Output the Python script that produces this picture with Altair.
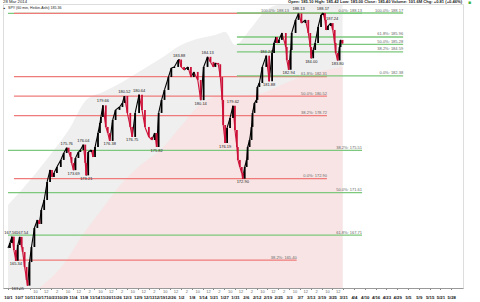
import json
import numpy as np
import pandas as pd
import altair as alt

# ---------------- calendar (x = trading-day index, day 0 = 1 Oct 2013) ----------------
first_day = "2013-10-01"
last_day = "2014-05-30"
holidays = ["2013-11-28", "2013-12-25", "2014-01-01", "2014-01-20",
            "2014-02-17", "2014-04-18", "2014-05-26"]

# ---------------- SPY 60-min Heikin-Ashi path ----------------
bar_day = [0.00, 0.72, 1.45, 2.17, 2.90, 3.62, 4.34, 5.07, 5.43, 6.15, 6.88, 7.24, 7.96, 8.69,
           9.77, 10.86, 11.58, 12.31, 13.39, 14.48, 15.56, 16.29, 17.01, 18.10, 19.54, 20.63,
           21.72, 22.44, 23.16, 23.52, 24.25, 24.97, 26.06, 26.78, 27.87, 28.59, 28.95, 29.68,
           30.76, 31.49, 32.21, 33.30, 34.02, 34.38, 35.11, 36.19, 36.92, 37.64, 38.73, 39.81,
           41.26, 42.34, 43.07, 44.15, 45.24, 45.96, 47.05, 48.50, 49.58, 50.67, 52.12, 53.20,
           54.29, 55.01, 55.74, 56.82, 57.91, 59.36, 60.44, 61.53, 62.97, 63.34, 64.06, 65.15,
           66.59, 67.68, 68.77, 70.21, 71.30, 72.39, 73.83, 74.92, 76.00, 76.73, 77.81, 78.54,
           79.26, 79.62, 80.35, 81.07, 82.16, 83.24, 83.97, 84.69, 85.05, 85.78, 86.50, 86.86,
           87.59, 88.31, 88.67, 89.40, 90.12, 90.48, 91.20, 91.93, 92.29, 93.01, 94.10, 95.55,
           96.63, 97.72, 98.44, 99.17, 99.53, 100.25, 101.34, 102.79, 103.15, 103.87, 104.60,
           104.96, 106.41, 107.49, 108.58, 110.03, 111.11, 111.84, 112.20, 112.92, 113.66,
           114.73, 115.82, 116.54, 117.27, 117.63, 118.39, 119.43, 120.16, 120.88, 121.24,
           121.97, 122.69, 123.05, 123.78]
bar_close = [166.52, 166.98, 167.56, 166.33, 165.34, 166.79, 167.54, 166.61, 166.15, 164.77,
             163.57, 163.05, 165.22, 166.61, 168.36, 169.10, 168.73, 170.02, 170.94, 172.60,
             173.71, 173.06, 173.43, 173.98, 174.63, 175.27, 175.76, 175.36, 174.90, 174.35,
             173.69, 174.81, 175.36, 175.55, 176.04, 174.35, 173.21, 175.36, 175.55, 174.90,
             175.82, 177.11, 178.03, 178.59, 179.66, 177.67, 177.11, 176.38, 178.31, 179.24,
             179.51, 179.88, 180.52, 178.96, 177.67, 176.75, 178.96, 180.64, 179.24, 177.67,
             176.75, 176.47, 177.11, 175.82, 178.96, 180.16, 181.08, 182.27, 183.10, 183.20,
             183.84, 183.88, 183.20, 182.92, 183.20, 182.27, 182.74, 182.00, 180.14, 183.20,
             184.13, 183.66, 183.20, 183.57, 183.45, 182.27, 180.16, 177.85, 176.19, 177.58,
             178.50, 179.62, 177.39, 175.82, 174.63, 173.98, 173.43, 172.90, 173.98, 174.63,
             175.82, 176.47, 177.67, 178.96, 179.88, 180.16, 181.35, 181.72, 183.20, 184.24,
             181.88, 184.49, 185.41, 185.96, 185.41, 185.69, 186.33, 185.04, 183.84, 182.94,
             184.76, 186.33, 187.53, 188.13, 187.25, 187.53, 186.33, 185.04, 184.00, 184.76,
             185.41, 186.88, 187.99, 188.17, 187.53, 186.61, 186.97, 187.24, 186.61, 185.41,
             184.49, 183.80, 185.04, 185.69, 185.36]

# swing-point price labels (label_day = where the label text is centred)
hi_label_day = [0.9, 5.2, 21.72, 27.87, 35.11, 43.07, 48.50, 63.34, 73.83, 83.24, 95.55, 107.49, 116.54, 119.9]
hi_price = [167.56, 167.54, 175.76, 176.04, 179.66, 180.52, 180.64, 183.88, 184.13, 179.62, 184.24, 188.13, 188.17, 187.24]
lo_label_day = [2.90, 3.6, 24.25, 28.95, 37.64, 45.96, 55.01, 71.30, 80.35, 86.86, 96.63, 103.87, 112.20, 121.97]
lo_price = [165.34, 163.05, 173.69, 173.21, 176.38, 176.75, 175.82, 180.14, 176.19, 172.90, 181.88, 182.94, 184.00, 183.80]

# ---------------- Fibonacci retracement lines ----------------
fib_set = ["g1"] * 4 + ["r"] * 6 + ["g2"] * 5
fib_price = [188.13, 175.51, 171.61, 167.71,
             188.13, 182.31, 180.52, 178.72, 172.90, 165.40,
             188.17, 185.96, 185.28, 184.59, 182.38]
fib_text = ["0.0%: 188.13", "38.2%: 175.51", "50.0%: 171.61", "61.8%: 167.71",
            "100.0%: 188.13", "61.8%: 182.31", "50.0%: 180.52", "38.2%: 178.72", "0.0%: 172.90", "38.2%: 165.40",
            "100.0%: 188.17", "61.8%: 185.96", "50.0%: 185.28", "38.2%: 184.59", "0.0%: 182.38"]
fib_start = [0.0] * 4 + [2.2] * 5 + [2.5] + [84.7] * 5
fib_end = [131.0] * 4 + [118.0] * 5 + [106.8] + [146.2] * 5
fib_label_end = [131.0] * 4 + [104.0] + [118.0] * 4 + [106.8] + [146.2] * 5

# ---------------- shaded envelopes ----------------
gray_day = [0.0, 9.77, 17.01, 22.44, 28.95, 35.11, 42.34, 49.58, 56.82, 64.06, 71.30, 76.73,
            80.35, 83.97, 89.40, 94.83, 100.25, 123.78]
gray_top = [170.48, 173.24, 175.55, 177.39, 180.16, 180.89, 181.82, 182.92, 184.03, 185.23,
            185.87, 186.15, 186.42, 185.23, 186.61, 188.27, 188.91, 188.91]
pink_day = [11.58, 20.63, 27.87, 35.11, 41.26, 49.58, 56.82, 64.06, 71.30, 78.54, 85.78,
            93.01, 100.25, 107.49, 114.73, 123.78]
pink_top = [162.83, 165.04, 167.80, 170.20, 172.23, 174.26, 175.64, 177.76, 179.79, 180.53,
            180.53, 180.71, 181.45, 182.18, 182.74, 183.20]

# ---------------- axis values ----------------
y_ticks = [163, 164, 165, 166, 167, 168, 169, 170, 171, 172, 173, 174, 175, 176, 177, 178,
           179, 180, 181, 182, 187]
y_marks = [188.23, 186.13, 185.36, 184.0, 182.92]
y_lo, y_hi = 162.83, 189.0
x_lo, x_hi = 0.0, 166.5

header_date = "28 Mar 2014"
header_sym = "SPY (60 min, Heikin-Ashi) 185.36"
header_quote = "Open: 185.10  High: 185.42  Low: 185.00  Close: 185.40  Volume: 101.6M  Chg: +0.81 (+0.46%)"

# ---------------- build tables ----------------
cal = pd.bdate_range(first_day, last_day)
cal = cal[~cal.isin(pd.to_datetime(holidays))]
date_tick_days = list(range(0, len(cal), 4))
date_tick_text = [f"{cal[d].month}/{cal[d].day}" for d in date_tick_days]
hour_tick_days = [d + 2 for d in date_tick_days if 8 < d + 2 < 124]
hour_tick_text = [["10", "12", "2"][i % 3] for i in range(len(hour_tick_days))]

candles = pd.DataFrame({"day": bar_day, "close": bar_close})
candles["open"] = candles["close"].shift(1).fillna(candles["close"])
candles["prev_day"] = candles["day"].shift(1).fillna(candles["day"])
candles["dir"] = np.where(candles["close"] >= candles["open"], "up", "down")

fibs = pd.DataFrame({"set": fib_set, "price": fib_price, "text": fib_text,
                     "start": fib_start, "end": fib_end, "lend": fib_label_end})
hi = pd.DataFrame({"day": hi_label_day, "price": hi_price, "text": [f"{p:.2f}" for p in hi_price]})
lo = pd.DataFrame({"day": lo_label_day, "price": lo_price, "text": [f"{p:.2f}" for p in lo_price]})
gray = pd.DataFrame({"day": gray_day, "top": gray_top})
pink = pd.DataFrame({"day": pink_day, "top": pink_top})

xscale = alt.Scale(domain=[x_lo, x_hi], nice=False, zero=False)
yscale = alt.Scale(domain=[y_lo, y_hi], nice=False, zero=False)
FONT = "Liberation Sans"

hour_expr = f"{json.dumps(hour_tick_text)}[indexof({json.dumps(hour_tick_days)}, datum.value)]"
date_expr = f"{json.dumps(date_tick_text)}[indexof({json.dumps(date_tick_days)}, datum.value)]"
mark_list = json.dumps(y_marks)
y_expr = (f"indexof({mark_list}, datum.value) >= 0 ? format(datum.value, '.2f') "
          f": format(datum.value, 'd')")

hour_axis = alt.Axis(orient="bottom", values=hour_tick_days, labelExpr=hour_expr,
                     labelFontSize=4, labelColor="#666", ticks=False, domain=False,
                     grid=False, labelPadding=1, labelFont=FONT, title=None,
                     labelOverlap=False, labelFlush=False)
date_axis = alt.Axis(orient="bottom", values=date_tick_days, labelExpr=date_expr,
                     labelFontSize=4.3, labelFontWeight="bold", labelColor="#111",
                     tickSize=1.5, tickColor="#888", domainColor="#999", grid=False,
                     labelPadding=5.5, labelFont=FONT, title=None, labelOverlap=False,
                     labelFlush=False)
y_axis = alt.Axis(orient="right", values=y_ticks + y_marks, labelExpr=y_expr,
                  labelFontSize=4.3, labelFont=FONT, tickSize=2, tickColor="#888",
                  domainColor="#888", grid=False, labelPadding=1, title=None,
                  labelOverlap=False, labelFlush=False,
                  labelFontWeight={"condition": {"test": f"indexof({mark_list}, datum.value) >= 0",
                                                 "value": "bold"}, "value": "normal"},
                  labelColor={"condition": {"test": "datum.value == 182.92", "value": "#d0303a"},
                              "value": "#333"})

gray_layer = alt.Chart(gray).mark_area(color="#efefef", interpolate="monotone").encode(
    x=alt.X("day:Q", scale=xscale, axis=hour_axis),
    y=alt.Y("top:Q", scale=yscale, axis=None),
    y2=alt.datum(y_lo))

pink_layer = alt.Chart(pink).mark_area(color="#f8e4e4", interpolate="monotone").encode(
    x=alt.X("day:Q", scale=xscale, axis=date_axis),
    y=alt.Y("top:Q", scale=yscale, axis=None),
    y2=alt.datum(y_lo))

fib_colors = {"g1": "#7cc87c", "r": "#f07a7a", "g2": "#7cc87c"}
fib_layers = []
for s in ["g1", "r", "g2"]:
    fib_layers.append(alt.Chart(fibs).transform_filter(f"datum.set == '{s}'")
                      .mark_rule(strokeWidth=1.3, color=fib_colors[s]).encode(
        x=alt.X("start:Q", scale=xscale, axis=None), x2="end:Q",
        y=alt.Y("price:Q", scale=yscale, axis=None)))

fib_text_layer = alt.Chart(fibs).mark_text(align="right", baseline="bottom", dy=-0.5,
                                           fontSize=4, font=FONT, color="#666").encode(
    x=alt.X("lend:Q", scale=xscale, axis=None),
    y=alt.Y("price:Q", scale=yscale, axis=None),
    text="text:N")

dir_colors = {"up": "#000000", "down": "#cc1038"}
candle_layers = []
for dname, col in dir_colors.items():
    base = alt.Chart(candles).transform_filter(f"datum.dir == '{dname}'")
    candle_layers.append(base.mark_rule(strokeWidth=1.1, color=col).encode(
        x=alt.X("prev_day:Q", scale=xscale, axis=None), x2="day:Q",
        y=alt.Y("open:Q", scale=yscale, axis=None), y2="close:Q"))
for dname, col in dir_colors.items():
    base = alt.Chart(candles).transform_filter(f"datum.dir == '{dname}'")
    candle_layers.append(base.mark_bar(size=1.8, color=col).encode(
        x=alt.X("day:Q", scale=xscale, axis=None),
        y=alt.Y("open:Q", scale=yscale, axis=y_axis if dname == "up" else None),
        y2="close:Q"))

hi_layer = alt.Chart(hi).mark_text(baseline="bottom", dy=-2, fontSize=4, font=FONT,
                                   color="#222").encode(
    x=alt.X("day:Q", scale=xscale, axis=None),
    y=alt.Y("price:Q", scale=yscale, axis=None), text="text:N")
lo_layer = alt.Chart(lo).mark_text(baseline="top", dy=1.5, fontSize=4, font=FONT,
                                   color="#222").encode(
    x=alt.X("day:Q", scale=xscale, axis=None),
    y=alt.Y("price:Q", scale=yscale, axis=None), text="text:N")

hdr = pd.DataFrame({"a": [header_date], "b": [header_sym], "c": [header_quote], "d": ["■"], "e": ["▪"]})
h1 = alt.Chart(hdr).mark_text(align="left", baseline="middle", fontSize=4.3, font=FONT,
                              color="#222").encode(x=alt.value(0), y=alt.value(-2), text="a:N")
h2 = alt.Chart(hdr).mark_text(align="left", baseline="middle", fontSize=3.6, font=FONT,
                              color="#222").encode(x=alt.value(5), y=alt.value(3.5), text="b:N")
h2i = alt.Chart(hdr).mark_text(align="left", baseline="middle", fontSize=5, font=FONT,
                               color="#222").encode(x=alt.value(0.5), y=alt.value(3.5), text="e:N")
h3 = alt.Chart(hdr).mark_text(align="right", baseline="middle", fontSize=4.1, font=FONT,
                              fontWeight="bold", color="#222").encode(
    x=alt.value(459), y=alt.value(-2), text="c:N")
h4 = alt.Chart(hdr).mark_text(align="left", baseline="middle", fontSize=5, font=FONT,
                              color="#3cb43c").encode(x=alt.value(465), y=alt.value(-2), text="d:N")

chart = alt.layer(
    gray_layer, pink_layer, *fib_layers, fib_text_layer, *candle_layers,
    hi_layer, lo_layer, h1, h2i, h2, h3, h4
).resolve_axis(x="independent").properties(
    width=460, height=284,
    autosize=alt.AutoSizeParams(type="none"),
    padding={"left": 3, "top": 4, "right": 17, "bottom": 14},
).configure_view(stroke="#cfcfcf", strokeWidth=0.8).configure(background="white")

chart.save("out.html", embed_options={"renderer": "svg", "actions": False})
